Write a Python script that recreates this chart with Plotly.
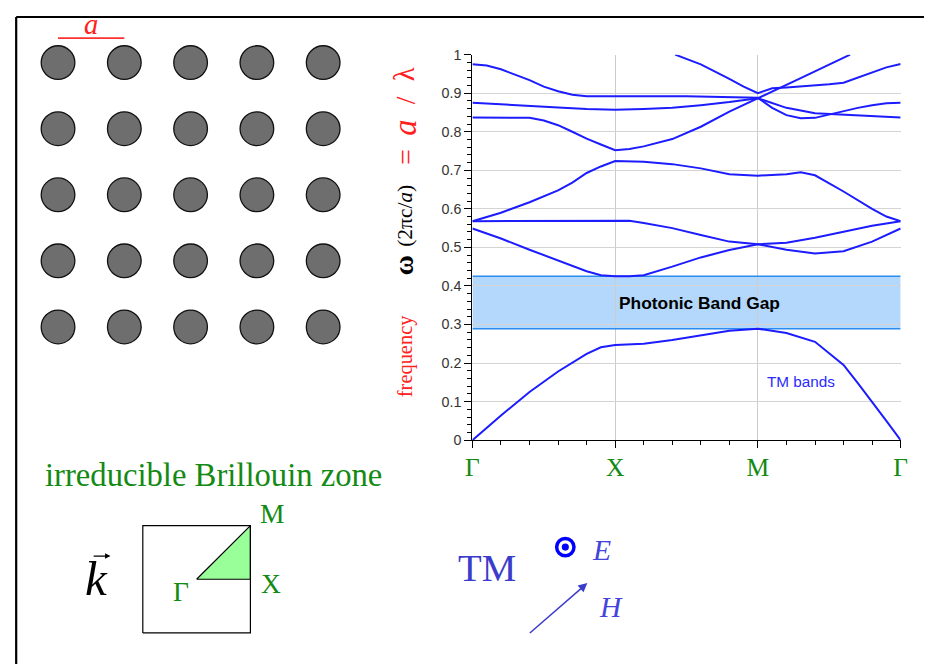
import plotly.graph_objects as go

# The viewer photographs a 948x680 page region (figure placed 16px in) and scales it to 932x664.
# Reference pixel coordinates are mapped through that transform below.
W, H = 932, 664
OFF = 16
KX, KY = (W + OFF) / W, (H + OFF) / H
S = 0.5 * (KX + KY)          # size compensation

# ---------------- data ----------------
k_labels = ["Γ", "X", "M", "Γ"]
k_ticks = [0, 1, 2, 3]
y_ticks = [0, 0.1, 0.2, 0.3, 0.4, 0.5, 0.6, 0.7, 0.8, 0.9, 1.0]
y_ticktext = ["0", "0.1", "0.2", "0.3", "0.4", "0.5", "0.6", "0.7", "0.8", "0.9", "1"]

kA = [0, 0.2, 0.4, 0.6, 0.8, 0.9, 1.0, 1.2, 1.4, 1.6, 1.8, 2.0, 2.2, 2.4, 2.6, 2.7, 2.8, 2.9, 3.0]
bandA = [0, 0.064, 0.125, 0.178, 0.224, 0.241, 0.247, 0.25, 0.26, 0.272, 0.284, 0.289, 0.278, 0.255, 0.195, 0.148, 0.1, 0.05, 0]

kB = [0, 0.2, 0.4, 0.6, 0.8, 0.9, 1.0, 1.1, 1.2, 1.4, 1.6, 1.8, 2.0, 2.2, 2.4, 2.6, 2.8, 3.0]
bandB = [0.549, 0.523, 0.494, 0.467, 0.438, 0.428, 0.425, 0.425, 0.428, 0.45, 0.474, 0.493, 0.508, 0.494, 0.484, 0.49, 0.515, 0.549]

kC = [0, 0.4, 0.8, 1.0, 1.1, 1.2, 1.4, 1.6, 1.8, 2.0, 2.2, 2.4, 2.6, 2.8, 3.0]
bandC = [0.568, 0.569, 0.57, 0.57, 0.569, 0.563, 0.55, 0.532, 0.515, 0.508, 0.512, 0.525, 0.541, 0.556, 0.568]

kD = [0, 0.2, 0.4, 0.6, 0.7, 0.8, 0.9, 1.0, 1.2, 1.4, 1.6, 1.8, 2.0, 2.2, 2.3, 2.4, 2.6, 2.8, 2.9, 3.0]
bandD = [0.568, 0.59, 0.617, 0.648, 0.668, 0.693, 0.71, 0.724, 0.722, 0.716, 0.705, 0.69, 0.686, 0.69, 0.695, 0.687, 0.645, 0.6, 0.58, 0.568]

kE = [0, 0.2, 0.4, 0.5, 0.6, 0.7, 0.8, 0.9, 1.0, 1.1, 1.2, 1.4, 1.6, 1.8, 2.0, 2.3, 2.646]
bandE = [0.837, 0.837, 0.836, 0.829, 0.817, 0.8, 0.782, 0.767, 0.752, 0.755, 0.762, 0.781, 0.813, 0.852, 0.886, 0.939, 1.0]

kF = [0, 0.2, 0.4, 0.6, 0.8, 1.0, 1.2, 1.4, 1.6, 1.8, 2.0, 2.2, 2.4, 2.6, 2.8, 3.0]
bandF = [0.8755, 0.871, 0.866, 0.863, 0.859, 0.857, 0.859, 0.862, 0.869, 0.877, 0.887, 0.862, 0.848, 0.844, 0.84, 0.837]

kG = [0, 0.1, 0.2, 0.3, 0.4, 0.5, 0.6, 0.7, 0.8, 1.0, 1.5, 2.0, 2.1, 2.2, 2.3, 2.4, 2.5, 2.6, 2.7, 2.8, 2.9, 3.0]
bandG = [0.975, 0.972, 0.962, 0.948, 0.934, 0.917, 0.905, 0.896, 0.892, 0.892, 0.892, 0.888, 0.862, 0.843, 0.835, 0.836, 0.845, 0.853, 0.862, 0.869, 0.874, 0.875]

kH = [1.42, 1.6, 1.8, 1.9, 2.0, 2.1, 2.2, 2.3, 2.4, 2.5, 2.6, 2.7, 2.8, 2.9, 3.0]
bandH = [1.0, 0.975, 0.937, 0.917, 0.900, 0.913, 0.915, 0.917, 0.92, 0.923, 0.927, 0.94, 0.954, 0.967, 0.976]

gap_low, gap_high = 0.289, 0.425

lattice_cols = [0, 1, 2, 3, 4]
lattice_rows = [0, 1, 2, 3, 4]

bz_square_x = [-1, 1, 1, -1, -1]
bz_square_y = [-1, -1, 1, 1, -1]
bz_tri_x = [0, 1, 1, 0]
bz_tri_y = [0, 0, 1, 0]

# ---------------- helpers (reference-pixel -> paper) ----------------
def px(x):
    return (x * KX - OFF) / W

def py(y):
    return 1 - (y * KY - OFF) / H

def fs(size):
    return size * S

SERIF = "Liberation Serif, Times New Roman, serif"
SANS = "Liberation Sans, Arial, sans-serif"
BAND = "#1c1cff"
GREEN = "#138a13"
TMBLUE = "#3b3bcc"
RED = "#ff2020"

fig = go.Figure()

# band structure
for kk, vv in [(kA, bandA), (kB, bandB), (kC, bandC), (kD, bandD),
               (kE, bandE), (kF, bandF), (kG, bandG), (kH, bandH)]:
    fig.add_trace(go.Scatter(x=kk, y=vv, mode="lines",
                             line=dict(color=BAND, width=2),
                             xaxis="x", yaxis="y", hoverinfo="skip"))

# lattice
lx = [c for r in lattice_rows for c in lattice_cols]
ly = [r for r in lattice_rows for c in lattice_cols]
fig.add_trace(go.Scatter(x=lx, y=ly, mode="markers",
                         marker=dict(size=fs(33), color="#6e6e6e",
                                     line=dict(color="#111111", width=1.3)),
                         xaxis="x2", yaxis="y2", cliponaxis=False, hoverinfo="skip"))
fig.add_trace(go.Scatter(x=[lattice_cols[0], lattice_cols[1]], y=[-0.37, -0.37], mode="lines",
                         line=dict(color="#ff3030", width=1.6),
                         xaxis="x2", yaxis="y2", hoverinfo="skip"))

# Brillouin zone
fig.add_trace(go.Scatter(x=bz_tri_x, y=bz_tri_y, mode="lines", fill="toself",
                         fillcolor="#99ff99", line=dict(color="black", width=1.2),
                         xaxis="x3", yaxis="y3", hoverinfo="skip"))
fig.add_trace(go.Scatter(x=bz_square_x, y=bz_square_y, mode="lines",
                         line=dict(color="black", width=1.2),
                         xaxis="x3", yaxis="y3", hoverinfo="skip"))

# E-field symbol (circle with dot) on reference-pixel overlay axis
fig.add_trace(go.Scatter(x=[565], y=[547], mode="markers",
                         marker=dict(symbol="circle-open", size=fs(17), color="#0000ff",
                                     line=dict(color="#0000ff", width=3.5)),
                         xaxis="x4", yaxis="y4", hoverinfo="skip"))
fig.add_trace(go.Scatter(x=[565], y=[547], mode="markers",
                         marker=dict(symbol="circle", size=fs(7), color="#0000ff"),
                         xaxis="x4", yaxis="y4", hoverinfo="skip"))

# ---------------- layout ----------------
x0p, x1p = 472.3, 899.7
y0p, y1p = 440.0, 54.3

bz_u = 53.7
bz_cx, bz_cy = 197.0, 579.2
bz_pad = 0.05

fig.update_layout(
    width=W, height=H,
    margin=dict(l=0, r=0, t=0, b=0),
    paper_bgcolor="white", plot_bgcolor="rgba(0,0,0,0)",
    showlegend=False,
    xaxis=dict(domain=[px(x0p), px(x1p)], range=[0, 3],
               tickvals=k_ticks, ticktext=k_labels,
               tickfont=dict(family=SERIF, size=fs(25), color=GREEN),
               ticklabelstandoff=-3,
               showgrid=True, gridcolor="#cccccc", gridwidth=1,
               showline=True, linecolor="black", linewidth=1.3,
               ticks="outside", ticklen=7, tickcolor="black", tickwidth=1.2,
               minor=dict(dtick=0.2, ticks="outside", ticklen=4, tickcolor="black", showgrid=False),
               zeroline=False, fixedrange=True),
    yaxis=dict(domain=[py(y0p), py(y1p)], range=[0, 1],
               tickvals=y_ticks, ticktext=y_ticktext,
               tickfont=dict(family=SANS, size=fs(14), color="#333333"),
               showgrid=True, gridcolor="#d4d4d4", gridwidth=1,
               showline=True, linecolor="black", linewidth=1.3,
               ticks="outside", ticklen=7, tickcolor="black", tickwidth=1.2,
               minor=dict(dtick=0.02, ticks="outside", ticklen=4, tickcolor="black", showgrid=False),
               zeroline=False, fixedrange=True),
    xaxis2=dict(domain=[px(25.6), px(356.4)], range=[-0.5, 4.5], visible=False),
    yaxis2=dict(domain=[py(359.8), py(29.2)], range=[4.5, -0.5], visible=False),
    xaxis3=dict(domain=[px(bz_cx - bz_u * (1 + bz_pad)), px(bz_cx + bz_u * (1 + bz_pad))],
                range=[-1 - bz_pad, 1 + bz_pad], visible=False),
    yaxis3=dict(domain=[py(bz_cy + bz_u * (1 + bz_pad)), py(bz_cy - bz_u * (1 + bz_pad))],
                range=[-1 - bz_pad, 1 + bz_pad], visible=False),
    xaxis4=dict(domain=[0, 1], range=[OFF / KX, (W + OFF) / KX], visible=False),
    yaxis4=dict(domain=[0, 1], range=[(H + OFF) / KY, OFF / KY], visible=False),
)

fx = max(px(10), 1.2 / W)
fy = min(py(7), 1 - 1.0 / H)
shapes = [
    dict(type="rect", xref="x", yref="y", x0=0, x1=3, y0=gap_low, y1=gap_high,
         fillcolor="#b4d8fb", line=dict(width=0), layer="below"),
    dict(type="line", xref="x", yref="y", x0=0, x1=3, y0=gap_low, y1=gap_low,
         line=dict(color="#2a8cf0", width=1.5), layer="between"),
    dict(type="line", xref="x", yref="y", x0=0, x1=3, y0=gap_high, y1=gap_high,
         line=dict(color="#2a8cf0", width=1.5), layer="between"),
    # outer frame (top and left)
    dict(type="line", xref="paper", yref="paper", x0=fx, x1=1, y0=fy, y1=fy,
         line=dict(color="black", width=2)),
    dict(type="line", xref="paper", yref="paper", x0=fx, x1=fx, y0=fy, y1=0,
         line=dict(color="black", width=2.2)),
]
fig.update_layout(shapes=shapes)


def pa(text, x, y, size, color, family=SERIF, angle=0):
    return dict(x=px(x), y=py(y), xref="paper", yref="paper", showarrow=False,
                xanchor="center", yanchor="middle", text=text, textangle=angle,
                font=dict(family=family, size=fs(size), color=color))


ann = []
# plot annotations
ann.append(dict(x=1.59, y=(gap_low + gap_high) / 2, xref="x", yref="y", showarrow=False,
                xanchor="center", yanchor="middle",
                text="<b>Photonic Band Gap</b>", font=dict(family=SANS, size=fs(17), color="black")))
ann.append(dict(x=2.30, y=0.151, xref="x", yref="y", showarrow=False,
                xanchor="center", yanchor="middle",
                text="TM bands", font=dict(family=SANS, size=fs(15), color="#2a2aff")))

# y-axis title pieces (rotated)
ann.append(pa("frequency", 405, 356, 20, RED, angle=-90))
ann.append(pa("<b>ω</b>", 403, 265, 27, "black", angle=-90))
ann.append(pa("(2πc/<i>a</i>)", 405, 215.5, 21, "black", angle=-90))
ann.append(pa("=", 406, 156.5, 27, RED, angle=-90))
ann.append(pa("<i>a</i>", 405, 127.5, 32, RED, angle=-90))
ann.append(pa("/", 405, 100, 27, RED, angle=-90))
ann.append(pa("λ", 404, 74, 28, RED, angle=-90))

# lattice constant label
ann.append(pa("<i>a</i>", 92, 24, 28, RED))

# Brillouin zone labels
ann.append(pa("irreducible Brillouin zone", 214, 475, 32, GREEN))
ann.append(dict(x=1, y=1, xref="x3", yref="y3", showarrow=False,
                xshift=22 * KX, yshift=12 * KY,
                xanchor="center", yanchor="middle",
                text="M", font=dict(family=SERIF, size=fs(27), color=GREEN)))
ann.append(dict(x=1, y=0, xref="x3", yref="y3", showarrow=False,
                xshift=20 * KX, yshift=-4 * KY,
                xanchor="center", yanchor="middle",
                text="X", font=dict(family=SERIF, size=fs(27), color=GREEN)))
ann.append(dict(x=0, y=0, xref="x3", yref="y3", showarrow=False,
                xshift=-15 * KX, yshift=-12 * KY,
                xanchor="center", yanchor="middle",
                text="Γ", font=dict(family=SERIF, size=fs(27), color=GREEN)))

# k vector
ann.append(pa("<i>k</i>", 97, 578, 48, "black"))
ann.append(dict(x=px(111), y=py(556), xref="paper", yref="paper", showarrow=True,
                axref="pixel", ayref="pixel",
                ax=-18 * KX, ay=0, arrowhead=2, arrowsize=0.9, arrowwidth=1.2,
                arrowcolor="black", text=""))

# TM polarisation
ann.append(pa("TM", 487, 567, 38, TMBLUE))
ann.append(pa("<i>E</i>", 601, 550, 29, "#4444dd"))
ann.append(pa("<i>H</i>", 611, 607, 29, "#4444dd"))
ann.append(dict(x=px(587), y=py(583), xref="paper", yref="paper", showarrow=True,
                axref="pixel", ayref="pixel",
                ax=-58 * KX, ay=50 * KY, arrowhead=2, arrowsize=1.2, arrowwidth=1.5,
                arrowcolor=TMBLUE, text=""))

fig.update_layout(annotations=ann)

fig.write_html("out.html")
